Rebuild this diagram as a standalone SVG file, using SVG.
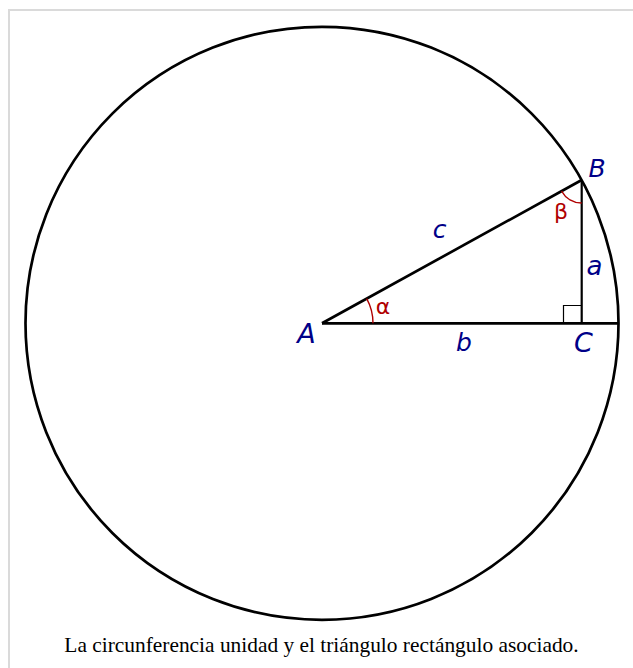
<svg xmlns="http://www.w3.org/2000/svg" width="633" height="668" viewBox="0 0 633 668">
  <style>
    .frame { fill: #ffffff; stroke: #dadada; stroke-width: 2; }
    .thick { fill: none; stroke: #000000; stroke-width: 2.7; stroke-linecap: butt; }
    .thin { fill: none; stroke: #000000; stroke-width: 1.2; }
    .arc { fill: none; stroke: #b00000; stroke-width: 1.4; }
    .lbl { font-family: "DejaVu Sans", "Liberation Sans", sans-serif; font-style: italic; fill: #000088; text-anchor: middle; }
    .greek { font-family: "DejaVu Sans", "Liberation Sans", sans-serif; fill: #b00000; text-anchor: middle; }
    .caption { font-family: "Liberation Serif", "DejaVu Serif", serif; font-size: 21.4px; fill: #000000; text-anchor: middle; }
  </style>
  <rect class="frame" x="9" y="10" width="640" height="680"/>
  <g id="circle">
    <circle class="thick" cx="322" cy="323.3" r="296.5"/>
  </g>
  <g id="connectors">
    <line id="side-c" class="thick" x1="322" y1="323.3" x2="581.7" y2="180"/>
    <line id="side-b" class="thick" x1="322" y1="323.3" x2="618.5" y2="323.3"/>
    <line id="side-a" class="thick" style="stroke-width:2.2" x1="581.7" y1="180" x2="581.7" y2="323.3"/>
    <path id="right-angle" class="thin" d="M563.5,323.3 V305.5 H581.7"/>
    <path id="arc-alpha" class="arc" d="M373,323.3 A51,51 0 0 0 366.7,298.7"/>
    <path id="arc-beta" class="arc" d="M561.6,191.1 A23,23 0 0 0 581.7,203"/>
  </g>
  <g id="node-A"><text class="lbl" x="306.5" y="343" font-size="27">A</text></g>
  <g id="node-B"><text class="lbl" x="597" y="177" font-size="25">B</text></g>
  <g id="node-C"><text class="lbl" x="583.5" y="351.5" font-size="27">C</text></g>
  <g id="label-a"><text class="lbl" x="594.5" y="274.5" font-size="26">a</text></g>
  <g id="label-b"><text class="lbl" x="464" y="351" font-size="25">b</text></g>
  <g id="label-c"><text class="lbl" x="439.5" y="237.5" font-size="25">c</text></g>
  <g id="label-alpha"><text class="greek" x="383" y="314" font-size="22">α</text></g>
  <g id="label-beta"><text class="greek" x="561" y="219" font-size="22">β</text></g>
  <g id="caption"><text class="caption" x="321.5" y="651.5">La circunferencia unidad y el triángulo rectángulo asociado.</text></g>
</svg>
